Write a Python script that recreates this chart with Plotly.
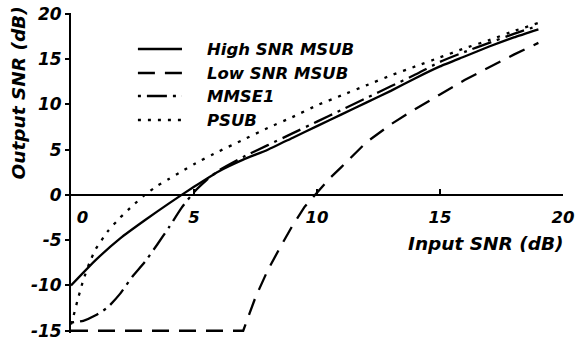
import plotly.graph_objects as go

# ---- data ----
x_high = [0, 1, 2, 3, 4, 5, 6, 7, 8, 9, 10, 11, 12, 13, 14, 15, 16, 17, 18, 19]
y_high = [-10, -7.2, -4.8, -2.8, -0.9, 0.9, 2.6, 3.9, 5.0, 6.3, 7.6, 8.9, 10.2, 11.5, 12.9, 14.2, 15.3, 16.4, 17.4, 18.3]

x_low = [0, 7, 7.5, 8, 8.5, 9, 9.5, 10, 10.5, 11, 11.5, 12, 13, 14, 15, 16, 17, 18, 19]
y_low = [-15, -15, -11.3, -8.3, -5.8, -3.4, -1.3, 0.3, 1.8, 3.1, 4.5, 5.8, 7.8, 9.5, 11.1, 12.7, 14.1, 15.5, 16.8]

x_mmse = [0, 0.5, 1, 1.5, 2, 2.5, 3, 3.5, 4, 4.5, 5, 5.5, 6, 7, 8, 9, 10, 11, 12, 13, 14, 15, 16, 17, 18, 19]
y_mmse = [-14.1, -13.9, -13.3, -12.4, -10.9, -9.0, -7.4, -5.5, -3.5, -1.4, 0.3, 1.6, 2.7, 4.2, 5.5, 6.8, 8.1, 9.4, 10.7, 12.0, 13.3, 14.7, 15.8, 16.8, 17.8, 18.7]

x_psub = [0, 0.1, 0.25, 0.5, 0.75, 1, 1.5, 2, 2.5, 3, 3.5, 4, 4.5, 5, 6, 7, 8, 9, 10, 11, 12, 13, 14, 15, 16, 17, 18, 19]
y_psub = [-14.3, -13.4, -11.8, -9.4, -7.5, -6.0, -4.0, -2.5, -1.2, 0, 1.0, 1.8, 2.6, 3.4, 4.8, 6.1, 7.4, 8.6, 9.9, 11.0, 12.1, 13.2, 14.2, 15.2, 16.2, 17.1, 18.1, 19.0]

names = ["High SNR MSUB", "Low SNR MSUB", "MMSE1", "PSUB"]
dashes = ["solid", "17px,10px", "3px,6px,20px,6px", "3px,7px"]
shapes = ["spline", "linear", "spline", "spline"]

x_ticks = [0, 5, 10, 15, 20]
x_ticktext = ["\u00a0\u00a0\u00a0\u00a00", "5", "10", "15", "20"]
y_ticks = [-15, -10, -5, 0, 5, 10, 15, 20]
y_ticktext = ["-15", "-10", "-5", "0", "5", "10", "15", "20"]

FONT = "DejaVu Sans"
series = [(x_high, y_high), (x_low, y_low), (x_mmse, y_mmse), (x_psub, y_psub)]

fig = go.Figure()
for (xs, ys), nm, ds, sh in zip(series, names, dashes, shapes):
    fig.add_trace(go.Scatter(x=xs, y=ys, mode="lines", name=nm, hoverinfo="skip",
                             line=dict(color="black", width=2.3, dash=ds, shape=sh, smoothing=0.5),
                             showlegend=False))

ymin, ymax = -15.25, 20.1
fig.update_layout(
    width=577, height=347,
    margin=dict(l=71, r=14, t=13, b=14),
    paper_bgcolor="white", plot_bgcolor="white",
    xaxis=dict(range=[0, 20], tickvals=x_ticks, ticktext=x_ticktext, automargin=False,
               showgrid=False, zeroline=False, showline=True, linecolor="black", linewidth=2,
               anchor="free", position=(0 - ymin) / (ymax - ymin),
               ticks="inside", ticklen=5, tickwidth=1.5, tickcolor="black",
               ticklabelstandoff=7,
               tickfont=dict(family=FONT, size=16.5, color="black", weight="bold", style="italic")),
    yaxis=dict(range=[ymin, ymax], tickvals=y_ticks, ticktext=y_ticktext, automargin=False,
               showgrid=False, zeroline=False, showline=True, linecolor="black", linewidth=2,
               ticks="outside", ticklen=4, tickwidth=1.5, tickcolor="black",
               tickfont=dict(family=FONT, size=17, color="black", weight="bold", style="italic")),
)

# axis titles
fig.add_annotation(text="Output SNR (dB)", xref="paper", yref="y", x=-0.106, y=11.3,
                   textangle=-90, showarrow=False, xanchor="center", yanchor="middle",
                   font=dict(family=FONT, size=18.5, color="black", weight="bold", style="italic"))
fig.add_annotation(text="Input SNR (dB)", xref="x", yref="y", x=16.86, y=-5.4,
                   showarrow=False, xanchor="center", yanchor="middle",
                   font=dict(family=FONT, size=18.5, color="black", weight="bold", style="italic"))

# legend (drawn manually)
leg_y = [0.8875, 0.8125, 0.7406, 0.6656]
for nm, ds, ly in zip(names, dashes, leg_y):
    fig.add_shape(type="line", xref="paper", yref="paper", x0=0.136, x1=0.2256, y0=ly, y1=ly,
                  line=dict(color="black", width=2.3, dash=ds))
    fig.add_annotation(text=nm, xref="paper", yref="paper", x=0.2724, y=ly,
                       showarrow=False, xanchor="left", yanchor="middle",
                       font=dict(family=FONT, size=16.5, color="black", weight="bold", style="italic"))

# remove the default page margin so the 577x347 figure fills the window exactly
fig.write_html("out.html", config={"displayModeBar": False},
               post_script="document.body.style.margin='0';")
